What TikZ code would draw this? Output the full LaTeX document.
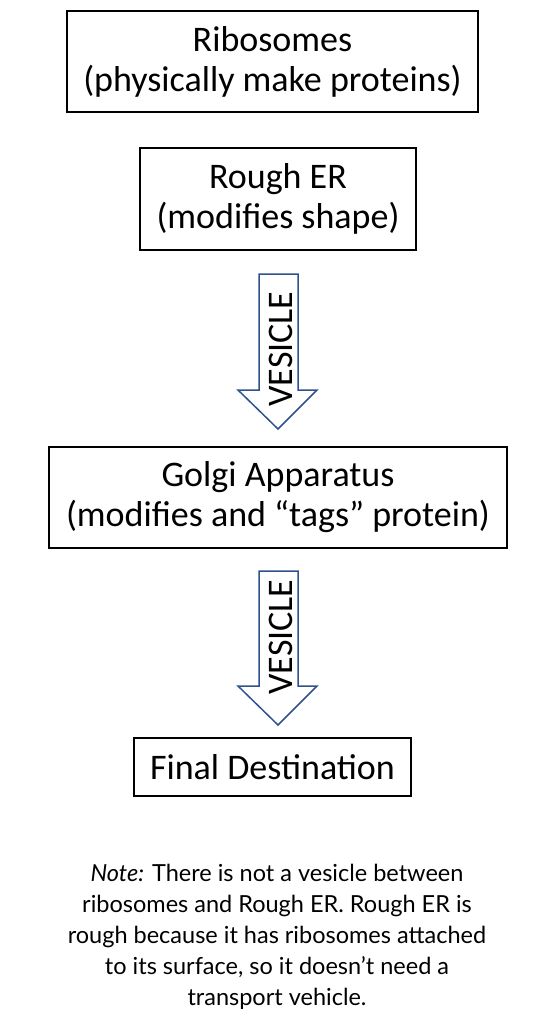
\documentclass[tikz,border=0pt]{standalone}
\usepackage{fontspec}
\setmainfont{Carlito}
\newfontfamily\notefont{Lato}
\definecolor{arrowblue}{HTML}{2F528F}
\begin{document}
\begin{tikzpicture}[x=1pt,y=-1pt,
  box/.style={draw=black, line width=1.5pt, align=center, inner sep=0pt,
    font=\fontsize{36}{40}\selectfont},
  blockarrow/.style={draw=arrowblue, line width=1.5pt, fill=white, line join=miter},
  vlabel/.style={rotate=90, font=\fontsize{36}{40}\selectfont, inner sep=0pt}]
\useasboundingbox (0,0) rectangle (554,1012);
\node[box, minimum width=411pt, minimum height=101pt] (ribo) at (272.5,61.5)
  {Ribosomes\\(physically make proteins)};
\node[box, minimum width=276pt, minimum height=102pt] (rer) at (278,199)
  {Rough ER\\(modifies shape)};
\node[box, minimum width=458pt, minimum height=101pt] (golgi) at (278,497.5)
  {Golgi Apparatus\\(modifies and “tags” protein)};
\node[box, minimum width=277pt, minimum height=58pt] (final) at (272.5,767)
  {Final Destination};
% arrow 1
\draw[blockarrow] (259,274) -- (298,274) -- (298,390) -- (317,390) -- (278,429)
  -- (238,390) -- (259,390) -- cycle;
\node[vlabel] (v1) at (281,349) {VESICLE};
% arrow 2
\draw[blockarrow] (259,571) -- (298,571) -- (298,686) -- (317,686) -- (278,725)
  -- (238,686) -- (259,686) -- cycle;
\node[vlabel] (v2) at (281,637) {VESICLE};
\node[align=center, font=\notefont\fontsize{23.5}{31}\selectfont, inner sep=0pt] (note) at (277,937)
  {\textit{Note:} There is not a vesicle between\\
   ribosomes and Rough ER. Rough ER is\\
   rough because it has ribosomes attached\\
   to its surface, so it doesn’t need a\\
   transport vehicle.};
\end{tikzpicture}
\end{document}
